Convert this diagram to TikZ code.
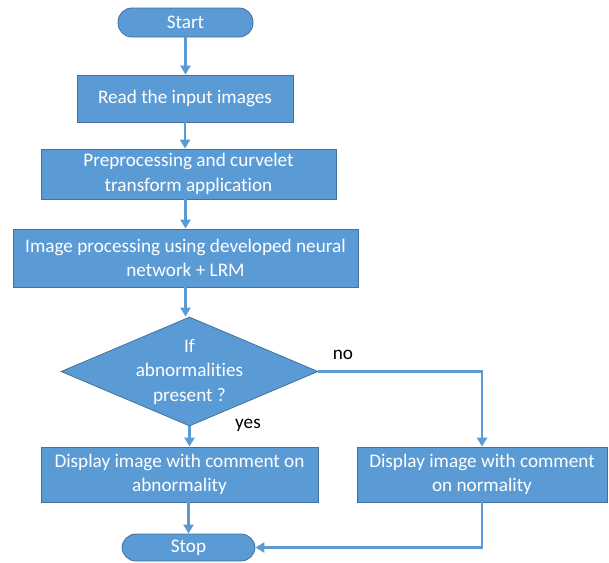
\documentclass[tikz,border=0pt]{standalone}
\usepackage{fontspec}
\setmainfont{Carlito}[Ligatures=NoCommon]
\usetikzlibrary{shapes.geometric, arrows.meta}

\definecolor{boxblue}{HTML}{5B9BD5}
\definecolor{edgeblue}{HTML}{41719C}

\begin{document}
\begin{tikzpicture}[x=1pt, y=-1pt,
    every node/.style={font=\fontsize{19.2}{24.5}\selectfont},
    block/.style={rectangle, draw=edgeblue, line width=.8pt, fill=boxblue,
    text=white, align=center, inner sep=0pt},
    terminal/.style={block, rounded corners=14pt},
    decision/.style={diamond, draw=edgeblue, line width=.8pt, fill=boxblue,
    inner sep=0pt, minimum width=257pt, minimum height=109pt},
    flow/.style={draw=boxblue, line width=2.6pt, -{Triangle[length=9pt, width=10pt]}}]
    \useasboundingbox (0, 0) rectangle (609, 562);

    % main column
    \node (Start) at (185.5, 22.5) [terminal, minimum width=135pt, minimum height=29pt] {Start};
    \node (Read) at (185, 98.5) [block, minimum width=216pt, minimum height=47pt] {Read the input images};
    \node (Prep) at (188.5, 174) [block, minimum width=295pt, minimum height=50pt]
    {Preprocessing and curvelet\\transform application};
    \node (Proc) at (185.5, 258) [block, minimum width=345pt, minimum height=58pt]
    {Image processing using developed neural\\network + LRM};
    \node (Cond) at (189.5, 371.5) [decision,
    label={[text=white, align=center]center:If\\abnormalities\\present ?}] {};

    % the two outcomes
    \node (Abn) at (179.5, 474.5) [block, minimum width=277pt, minimum height=55pt]
    {Display image with comment on\\abnormality};
    \node (Norm) at (482, 474.5) [block, minimum width=250pt, minimum height=55pt]
    {Display image with comment\\on normality};
    \node (Stop) at (188.5, 547.5) [terminal, minimum width=133pt, minimum height=27pt] {Stop};

    \node (No) at (343, 355) {no};
    \node (Yes) at (248, 425) {yes};

	\draw [flow] (Start.south) -- (Start.south |- Read.north);
	\draw [flow] (Read.south) -- (Read.south |- Prep.north);
	\draw [flow] (Prep.south -| Proc.north) -- (Proc.north);
	\draw [flow] (Proc.south) -- (Proc.south |- Cond.north);
	\draw [flow] (Cond.south) -- (Cond.south |- Abn.north);
	\draw [flow] (Cond.east) -| (Norm.north);
	\draw [flow] (Abn.south -| Stop.north) -- (Stop.north);
	\draw [flow] (Norm.south) |- (Stop.east);
\end{tikzpicture}
\end{document}
